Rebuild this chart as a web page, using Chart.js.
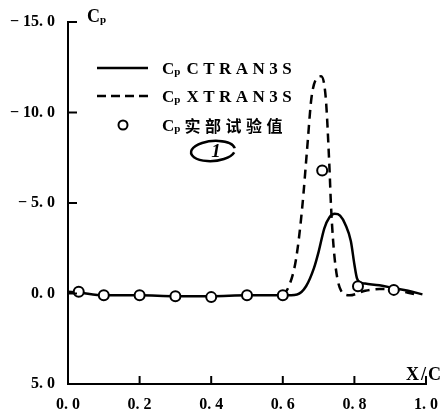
<!DOCTYPE html>
<html><head><meta charset="utf-8">
<script src="https://cdn.jsdelivr.net/npm/chart.js@4"></script>
<style>html,body{margin:0;padding:0;background:#fff}#w{width:444px;height:418px}</style>
</head><body><div id="w"><canvas id="c"></canvas></div>
<script>
const xTickValues = [0.0, 0.2, 0.4, 0.6, 0.8, 1.0];
const xTickLabels = ['0. 0', '0. 2', '0. 4', '0. 6', '0. 8', '1. 0'];
const yTickValues = [-15, -10, -5, 0, 5];
const yTickLabels = ['\u2212 15. 0', '\u2212 10. 0', '\u2212 5. 0', '0. 0', '5. 0'];

const ctranX = [0.0, 0.03, 0.1, 0.2, 0.3, 0.4, 0.5, 0.6, 0.64, 0.665, 0.687, 0.70, 0.716, 0.73, 0.745, 0.76, 0.775, 0.79, 0.80, 0.807, 0.815, 0.83, 0.87, 0.91, 0.95, 0.99];
const ctranY = [-0.1, -0.05, 0.1, 0.1, 0.15, 0.15, 0.1, 0.1, 0.05, -0.4, -1.4, -2.3, -3.6, -4.2, -4.4, -4.3, -3.8, -2.9, -1.6, -0.85, -0.62, -0.55, -0.45, -0.3, -0.15, 0.05];

const xtranX = [0.6, 0.617, 0.637, 0.654, 0.668, 0.68, 0.695, 0.707, 0.72, 0.73, 0.735, 0.745, 0.763, 0.786, 0.83, 0.87, 0.91, 0.97];
const xtranY = [0.1, -0.4, -1.9, -4.7, -8.0, -10.8, -11.9, -12.0, -10.8, -7.1, -4.7, -1.9, -0.15, 0.1, -0.15, -0.25, -0.2, 0.05];

const expX = [0.03, 0.1, 0.2, 0.3, 0.4, 0.5, 0.6, 0.71, 0.81, 0.91];
const expY = [-0.1, 0.1, 0.1, 0.15, 0.2, 0.1, 0.1, -6.8, -0.4, -0.2];

const legendNames = ['CTRAN3S', 'XTRAN3S', '\u5b9e\u90e8\u8bd5\u9a8c\u503c'];

const zip = (xs, ys) => xs.map((x, i) => ({x, y: ys[i]}));
const SERIF = "'Liberation Serif', 'DejaVu Serif', serif";
const tickFont = {family: SERIF, size: 16, weight: 'bold'};

function drawCp(ctx, x, y, size) {
  ctx.letterSpacing = '0px';
  ctx.font = 'bold ' + size + 'px ' + SERIF;
  ctx.textBaseline = 'alphabetic';
  ctx.textAlign = 'left';
  ctx.fillText('C', x, y);
  const w = ctx.measureText('C').width;
  ctx.font = 'bold ' + Math.round(size * 0.62) + 'px ' + SERIF;
  ctx.fillText('p', x + w, y + 1);
  return x + w + ctx.measureText('p').width;
}

const decor = {
  id: 'decor',
  afterDraw(chart) {
    const ctx = chart.ctx, xs = chart.scales.x, ys = chart.scales.y;
    const x0 = xs.left, yb = ys.bottom;
    ctx.save();
    ctx.strokeStyle = '#000'; ctx.fillStyle = '#000'; ctx.lineWidth = 2;
    // inward ticks
    yTickValues.forEach(v => {
      const py = ys.getPixelForValue(v);
      ctx.beginPath(); ctx.moveTo(x0, py); ctx.lineTo(x0 + 9, py); ctx.stroke();
    });
    xTickValues.forEach(v => {
      if (v === 0) return;
      const px = xs.getPixelForValue(v);
      ctx.beginPath(); ctx.moveTo(px, yb); ctx.lineTo(px, yb - 8); ctx.stroke();
    });
    // axis titles
    drawCp(ctx, 87, 22, 18);
    ctx.font = 'bold 18px ' + SERIF;
    ctx.letterSpacing = '2px';
    ctx.textAlign = 'left'; ctx.textBaseline = 'alphabetic';
    ctx.fillText('X/C', 406, 380);
    // legend
    const lx0 = 97, lx1 = 148, tx = 162;
    const rows = [68, 96, 125];
    ctx.lineWidth = 2.5;
    ctx.beginPath(); ctx.moveTo(lx0, rows[0]); ctx.lineTo(lx1, rows[0]); ctx.stroke();
    ctx.setLineDash([9, 5]);
    ctx.beginPath(); ctx.moveTo(lx0, rows[1]); ctx.lineTo(lx1, rows[1]); ctx.stroke();
    ctx.setLineDash([]);
    ctx.lineWidth = 2;
    ctx.beginPath(); ctx.arc(123, rows[2], 4.5, 0, Math.PI * 2); ctx.stroke();
    legendNames.forEach((name, i) => {
      const ex = drawCp(ctx, tx, rows[i] + 6, 17);
      if (i === 2) {
        ctx.font = 'bold 16px "Noto Sans CJK SC"';
        ctx.letterSpacing = '4.5px';
        ctx.fillText(name, ex + 4, rows[i] + 7);
      } else {
        ctx.font = 'bold 17px ' + SERIF;
        ctx.letterSpacing = '4.5px';
        ctx.fillText(name, ex + 6, rows[i] + 6);
      }
    });
    ctx.letterSpacing = '0px';
    // circled annotation
    ctx.lineWidth = 2.5;
    ctx.beginPath(); ctx.ellipse(213, 151, 22, 10, -0.08, 0.3, Math.PI * 2 - 0.1); ctx.stroke();
    ctx.font = 'italic bold 19px ' + SERIF;
    ctx.textAlign = 'center'; ctx.textBaseline = 'middle';
    ctx.fillText('1', 216, 152);
    ctx.restore();
  }
};

new Chart(document.getElementById('c'), {
  type: 'scatter',
  data: {
    datasets: [
      {label: 'Cp ' + legendNames[0], type: 'line', data: zip(ctranX, ctranY), borderColor: '#000', borderWidth: 2.5, pointRadius: 0, fill: false, cubicInterpolationMode: 'monotone', order: 2},
      {label: 'Cp ' + legendNames[1], type: 'line', data: zip(xtranX, xtranY), borderColor: '#000', borderWidth: 2.5, borderDash: [9, 6], pointRadius: 0, fill: false, cubicInterpolationMode: 'monotone', order: 3},
      {label: 'Cp ' + legendNames[2], data: zip(expX, expY), pointRadius: 5, pointBackgroundColor: '#fff', pointBorderColor: '#000', pointBorderWidth: 2, order: 1}
    ]
  },
  options: {
    responsive: true, maintainAspectRatio: false, animation: false,
    layout: {padding: {top: 22, right: 18, left: 0, bottom: 0}},
    plugins: {legend: {display: false}, tooltip: {enabled: false}},
    scales: {
      x: {
        type: 'linear', min: 0, max: 1,
        afterBuildTicks: s => { s.ticks = xTickValues.map(v => ({value: v})); },
        ticks: {font: tickFont, color: '#000', padding: 3, maxRotation: 0, autoSkip: false,
                callback: (v) => xTickLabels[xTickValues.findIndex(t => Math.abs(t - v) < 1e-9)]},
        grid: {display: false},
        border: {display: true, color: '#000', width: 2},
        afterFit: s => { s.height = 34; }
      },
      y: {
        type: 'linear', min: -15, max: 5, reverse: true,
        afterBuildTicks: s => { s.ticks = yTickValues.map(v => ({value: v})); },
        ticks: {font: tickFont, color: '#000', padding: 5, autoSkip: false,
                callback: (v) => yTickLabels[yTickValues.indexOf(v)]},
        grid: {display: false},
        border: {display: true, color: '#000', width: 2},
        afterFit: s => { s.width = 68; }
      }
    }
  },
  plugins: [decor]
});
</script></body></html>
